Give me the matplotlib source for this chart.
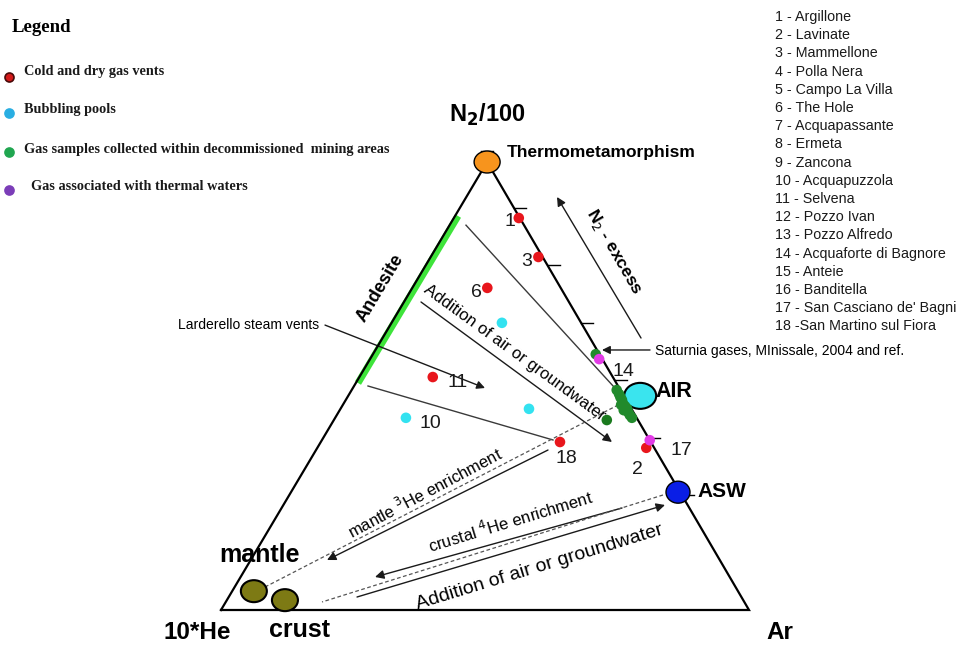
import matplotlib
matplotlib.use("Agg")
import matplotlib.pyplot as plt
from matplotlib.patches import Ellipse
import numpy as np

# ---------------- data: ternary compositions (N2/100, 10*He, Ar) in % ----------------
cold_dry_vents = [(87.5, 0.2, 12.3), (78.8, 0.8, 20.4), (71.9, 13.9, 14.2),
                  (52.0, 34.1, 13.9), (37.5, 17.2, 45.3), (36.2, 1.5, 62.3)]
cold_dry_ids = ["1", "3", "6", "11", "18", "2"]

bubbling_pools = [(64.1, 15.0, 20.9), (44.9, 19.4, 35.7), (42.9, 43.7, 13.4)]
bubbling_ids = ["", "", "10"]

mining_areas = [(57.1, 0.7, 42.2), (49.1, 0.7, 50.2), (48.2, 0.7, 51.1), (47.5, 0.8, 51.7),
                (46.9, 0.8, 52.3), (46.2, 1.0, 52.8), (45.5, 0.9, 53.6), (44.9, 0.8, 54.3),
                (44.2, 1.0, 54.8), (43.5, 1.0, 55.5), (42.9, 0.9, 56.2), (45.8, 1.5, 52.7),
                (44.6, 1.6, 53.8)]
mining_offset = [(42.4, 5.9, 51.7)]

thermal_waters = [(56.0, 0.6, 43.4), (37.9, 0.0, 62.1)]
thermal_ids = ["14", "17"]

# end-members: composition
end_members = {
    "Thermometamorphism": (100.0, 0.0, 0.0),
    "AIR": (47.8, -3.1, 55.3),
    "ASW": (26.3, 0.4, 73.3),
    "mantle": (4.2, 91.6, 4.1),
    "crust": (2.2, 86.8, 11.0),
}

site_names = ["Argillone", "Lavinate", "Mammellone", "Polla Nera", "Campo La Villa",
              "The Hole", "Acquapassante", "Ermeta", "Zancona", "Acquapuzzola",
              "Selvena", "Pozzo Ivan", "Pozzo Alfredo", "Acquaforte di Bagnore",
              "Anteie", "Banditella", "San Casciano de' Bagni", "San Martino sul Fiora"]

# N2 scale ticks on the N2-Ar side
n2_ticks = [102.5, 89.7, 76.9, 64.1, 51.3, 38.5, 25.7]

# ---------------- geometry ----------------
APEX_X = 0.504   # horizontal position of the N2 vertex in the frame


def tern(comp):
    n, he, ar = [float(v) for v in comp]
    s = n + he + ar
    n, ar = n / s, ar / s
    return ar + APEX_X * n, n


def terns(comps):
    xy = np.array([tern(c) for c in comps])
    return xy[:, 0], xy[:, 1]


SX, SY = 528.0, 448.0   # px per frame unit

fig = plt.figure(figsize=(9.61, 6.46), dpi=100)
ax = fig.add_axes([0, 0, 1, 1])
ax.set_xlim(-221 / SX, (961 - 221) / SX)
ax.set_ylim(-36 / SY, 610 / SY)
ax.axis("off")

SANS = "Liberation Sans"
SERIF = "Liberation Serif"

# triangle
vx, vy = terns([(0, 100, 0), (0, 0, 100), (100, 0, 0), (0, 100, 0)])
ax.plot(vx, vy, color="black", lw=1.6, zorder=3, solid_joinstyle="miter")

# N2 ticks
for t in n2_ticks:
    x0, y0 = tern((t, 0, 100 - t))
    ax.plot([x0, x0 + 12 / SX], [y0, y0], color="black", lw=1.0, zorder=3)

line_c = "#3a3a3a"


def seg(p, q, **kw):
    ax.plot([p[0], q[0]], [p[1], q[1]], color=kw.pop("color", line_c),
            lw=kw.pop("lw", 1.0), zorder=kw.pop("zorder", 2), **kw)


def arrow(p, q, ms=13):
    ax.annotate("", xy=q, xytext=p,
                arrowprops=dict(arrowstyle="-|>", color="#1a1a1a", lw=1.0,
                                mutation_scale=ms, shrinkA=0, shrinkB=0),
                zorder=2)


# Andesite field
seg((0.2595, 0.5067), (0.4489, 0.8795), color="#3ee43a", lw=5, zorder=2,
    solid_capstyle="butt")

# mixing / process lines
seg((0.464, 0.859), (0.748, 0.493))
arrow((0.3788, 0.6875), (0.7405, 0.375))
arrow((0.197, 0.636), (0.500, 0.4955), ms=12)
seg((0.2784, 0.500), (0.6288, 0.3795))
arrow((0.7955, 0.6071), (0.6364, 0.9219))
arrow((0.8125, 0.5804), (0.7216, 0.5804), ms=12)
seg((0.0833, 0.0513), (0.7595, 0.4621), ls=(0, (3, 2)), lw=0.9, color="#555555")
arrow((0.6193, 0.3571), (0.2008, 0.1116))
arrow((0.7595, 0.2277), (0.2917, 0.0737))
seg((0.8371, 0.2567), (0.1913, 0.0179), ls=(0, (3, 2)), lw=0.9, color="#555555")
arrow((0.2576, 0.029), (0.8409, 0.2344))

# end-member ellipses
em_style = {
    "Thermometamorphism": ("#f7941d", 26, 22, 1.0),
    "AIR": ("#3ae4ee", 32, 26, 1.5),
    "ASW": ("#0a1ee6", 24, 22, 1.0),
    "mantle": ("#7d7a14", 26, 22, 1.5),
    "crust": ("#7d7a14", 26, 22, 1.5),
}
for name, comp in end_members.items():
    fc, w, h, lw = em_style[name]
    x, y = tern(comp)
    ax.add_patch(Ellipse((x, y), w / SX, h / SY, facecolor=fc, edgecolor="black",
                         lw=lw, zorder=5))

# samples
ms = 58
x, y = terns(mining_areas)
ax.scatter(x, y, s=ms, color="#218a2c", edgecolors="none", zorder=6)
x, y = terns(mining_offset)
ax.scatter(x, y, s=ms, color="#1a7a1e", edgecolors="none", zorder=6)
x, y = terns(cold_dry_vents)
ax.scatter(x, y, s=ms, color="#e8161c", edgecolors="none", zorder=7)
x, y = terns(bubbling_pools)
ax.scatter(x, y, s=ms, color="#33e2f0", edgecolors="none", zorder=7)
x, y = terns(thermal_waters)
ax.scatter(x, y, s=ms, color="#e23be6", edgecolors="none", zorder=7)

# sample numbers
num_pos = {"1": (0.5473, 0.8661), "3": (0.5795, 0.7768), "6": (0.483, 0.7098),
           "11": (0.4489, 0.5067), "10": (0.3958, 0.4174), "18": (0.6534, 0.3371),
           "2": (0.7879, 0.3125), "17": (0.8712, 0.3571), "14": (0.7614, 0.5313)}
for lab in cold_dry_ids + bubbling_ids + thermal_ids:
    if lab:
        px, py = num_pos[lab]
        ax.text(px, py, lab, fontsize=14, family=SANS, color="#1a1a1a",
                ha="center", va="center", zorder=8)

# vertex and end-member labels
ax.text(0.5038, 1.1049, r"N$_\mathbf{2}$/100", fontsize=17, fontweight="bold",
        family=SANS, ha="center", va="center")
ax.text(0.5417, 1.0201, "Thermometamorphism", fontsize=12.5, fontweight="bold",
        family=SANS, ha="left", va="center")
ax.text(0.822, 0.4888, "AIR", fontsize=15.5, fontweight="bold", family=SANS,
        ha="left", va="center")
ax.text(0.9015, 0.2634, "ASW", fontsize=15, fontweight="bold", family=SANS,
        ha="left", va="center")
ax.text(0.072, 0.1228, "mantle", fontsize=18, fontweight="bold", family=SANS,
        ha="center", va="center")
ax.text(0.1496, -0.0446, "crust", fontsize=18, fontweight="bold", family=SANS,
        ha="center", va="center")
ax.text(-0.0455, -0.0495, "10*He", fontsize=17.5, fontweight="bold", family=SANS,
        ha="center", va="center")
ax.text(1.0587, -0.0495, "Ar", fontsize=17.5, fontweight="bold", family=SANS,
        ha="center", va="center")

# process labels
ax.text(0.3011, 0.7188, "Andesite", fontsize=13, fontweight="bold", family=SANS,
        rotation=59, ha="center", va="center", rotation_mode="anchor")
ax.text(0.5549, 0.5737, "Addition of air or groundwater", fontsize=12, family=SANS,
        rotation=-36, ha="center", va="center", rotation_mode="anchor")
ax.text(0.7443, 0.7991, r"N$_2$ - excess", fontsize=12.5, fontweight="bold",
        family=SANS, rotation=-60, ha="center", va="center", rotation_mode="anchor")
ax.text(-0.0814, 0.6362, "Larderello steam vents", fontsize=10, family=SANS,
        ha="left", va="center")
ax.text(0.822, 0.5781, "Saturnia gases, MInissale, 2004 and ref.", fontsize=10,
        family=SANS, ha="left", va="center")
ax.text(0.3864, 0.2634, r"mantle $^3$He enrichment", fontsize=12, family=SANS,
        rotation=28, ha="center", va="center", rotation_mode="anchor")
ax.text(0.5473, 0.1987, r"crustal $^4$He enrichment", fontsize=12, family=SANS,
        rotation=17, ha="center", va="center", rotation_mode="anchor")
ax.text(0.6042, 0.096, "Addition of air or groundwater", fontsize=14, family=SANS,
        rotation=17, ha="center", va="center", rotation_mode="anchor")

# site list
W, H = 961.0, 646.0
for i, name in enumerate(site_names):
    sep = " -" if i == len(site_names) - 1 else " - "
    fig.text(775 / W, 1 - (17 + 18.2 * i) / H, f"{i + 1}{sep}{name}", fontsize=10.3,
             family=SANS, color="#1a1a1a", ha="left", va="center")

# legend
fig.text(12 / W, 1 - 27 / H, "Legend", fontsize=13.5, fontweight="bold",
         family=SERIF, ha="left", va="center")
legend_rows = [
    ("Cold and dry gas vents", "#d41a1a", "#4a0a0a", 72, 77, 24),
    ("Bubbling pools", "#29aee2", "#29aee2", 110, 113, 24),
    ("Gas samples collected within decommissioned  mining areas", "#20a650", "#20a650", 149, 152, 24),
    ("Gas associated with thermal waters", "#7b3db8", "#7b3db8", 187, 190, 31),
]
for text, fc, ec, ty, my, tx in legend_rows:
    ax.scatter([(9 - 221) / SX], [(610 - my) / SY], s=42, color=fc, edgecolors=ec,
               linewidths=1.2, zorder=9, clip_on=False)
    fig.text(tx / W, 1 - ty / H, text, fontsize=10.3, fontweight="bold", family=SERIF,
             ha="left", va="center", color="#1a1a1a")

fig.savefig("out.png", dpi=100, facecolor="white")
